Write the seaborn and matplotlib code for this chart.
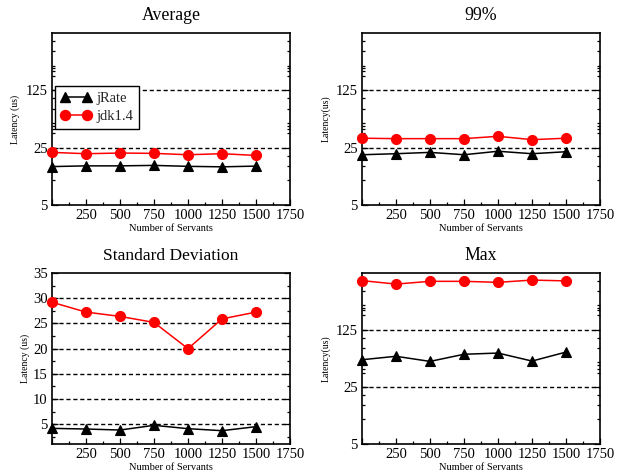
import numpy as np
import pandas as pd
import matplotlib
matplotlib.use("Agg")
import matplotlib.pyplot as plt
import seaborn as sns
from matplotlib.ticker import FixedLocator, FixedFormatter, NullFormatter
from matplotlib.lines import Line2D

# ---- data ----
servants = [0, 250, 500, 750, 1000, 1250, 1500]
series_names = ["jRate", "jdk1.4"]

avg_jrate = [14.7, 15.0, 15.0, 15.2, 14.8, 14.6, 14.9]
avg_jdk = [21.9, 21.1, 21.5, 21.3, 20.5, 21.1, 20.1]

p99_jrate = [20.5, 21.1, 21.9, 20.5, 22.6, 21.1, 22.3]
p99_jdk = [32.6, 32.2, 32.2, 32.2, 34.4, 31.3, 32.6]

std_jrate = [4.2, 4.07, 3.87, 4.8, 4.14, 3.74, 4.54]
std_jdk = [29.2, 27.25, 26.4, 25.2, 20.0, 25.9, 27.25]

max_jrate = [54, 59.5, 51.5, 63, 65.2, 52, 67]
max_jdk = [504, 457, 494, 494, 480, 512, 500]

panel_titles = ["Average", "99%", "Standard Deviation", "Max"]
ylabels = ["Latency (us)", "Latency(us)", "Latency (us)", "Latency(us)"]
xlabel = "Number of Servants"
xticks_major = [250, 500, 750, 1000, 1250, 1500, 1750]
log_major = [5, 25, 125]
log_minor = [10, 15, 20, 37.5, 42, 46, 50, 75, 100, 189, 217, 235, 250, 375, 500]
lin_major = [5, 10, 15, 20, 25, 30, 35]

sns.set_theme(style="white")
plt.rcParams["font.family"] = ["Liberation Serif", "DejaVu Serif"]

fig = plt.figure(figsize=(6.21, 4.71), dpi=100)
W, H = 621, 471

def px_axes(left, top, right, bottom):
    return fig.add_axes([left / W, 1 - bottom / H, (right - left) / W, (bottom - top) / H])

axes = [
    px_axes(52, 33, 290, 205),
    px_axes(362, 33, 600, 205),
    px_axes(52, 273, 290, 444),
    px_axes(362, 273, 600, 444),
]

data_sets = [
    (avg_jrate, avg_jdk),
    (p99_jrate, p99_jdk),
    (std_jrate, std_jdk),
    (max_jrate, max_jdk),
]

palette = {"jRate": "black", "jdk1.4": "#ff0000"}
markers = {"jRate": "^", "jdk1.4": "o"}
MS = 7.2

for i, (ax, (jr, jd)) in enumerate(zip(axes, data_sets)):
    df = pd.DataFrame({
        "servants": servants * 2,
        "latency": list(jr) + list(jd),
        "series": ["jRate"] * len(servants) + ["jdk1.4"] * len(servants),
    })
    sns.lineplot(data=df, x="servants", y="latency", hue="series", style="series",
                 markers=markers, dashes=False, palette=palette, ax=ax,
                 markersize=MS, markeredgewidth=0.8, linewidth=1.1,
                 legend=False, zorder=5, clip_on=False)
    for line in ax.lines:
        line.set_markeredgecolor(line.get_color())

    ax.set_xlim(0, 1750)
    ax.xaxis.set_major_locator(FixedLocator([0] + xticks_major))
    ax.xaxis.set_major_formatter(FixedFormatter([""] + [str(v) for v in xticks_major]))
    ax.xaxis.set_minor_locator(FixedLocator([125 + 250 * k for k in range(7)]))

    if i == 2:
        ax.set_ylim(1.1, 35)
        ax.yaxis.set_major_locator(FixedLocator(lin_major))
        ax.yaxis.set_major_formatter(FixedFormatter([str(v) for v in lin_major]))
        ax.yaxis.set_minor_locator(FixedLocator([2.5, 7.5, 12.5, 17.5, 22.5, 27.5, 32.5]))
        grid_vals = [5, 10, 15, 20, 25, 30]
    else:
        ax.set_yscale("log")
        ax.set_ylim(5, 625)
        ax.yaxis.set_major_locator(FixedLocator(log_major))
        ax.yaxis.set_major_formatter(FixedFormatter([str(v) for v in log_major]))
        ax.yaxis.set_minor_locator(FixedLocator(log_minor))
        ax.yaxis.set_minor_formatter(NullFormatter())
        grid_vals = [25, 125]

    for g in grid_vals:
        ax.axhline(g, color="black", linestyle=(0, (3, 2)), linewidth=1.0, zorder=1)

    ax.tick_params(axis="both", which="both", direction="in", labelsize=10.5,
                   left=True, right=True, bottom=True, top=False, colors="black")
    ax.tick_params(axis="both", which="major", length=4, width=0.9, pad=3)
    ax.tick_params(axis="both", which="minor", length=2.2, width=0.9)
    for s in ax.spines.values():
        s.set_color("black")
        s.set_linewidth(1.2)

    ax.set_title(panel_titles[i], fontsize=12.8 if i != 2 else 12.5, pad=9, color="black")
    ax.set_xlabel(xlabel, fontsize=7.5, labelpad=1, color="black")
    ax.set_ylabel(ylabels[i], fontsize=7, labelpad=4 if i != 2 else 2, color="black")

# legend in the Average panel
handles = [
    Line2D([0], [0], color="black", marker="^", markersize=MS, linewidth=1.1),
    Line2D([0], [0], color="#ff0000", marker="o", markersize=MS, linewidth=1.1),
]
leg = axes[0].legend(handles, series_names, loc="upper left",
                     bbox_to_anchor=((55 - 52) / 238, (205 - 86) / 172),
                     numpoints=2, fontsize=10.5, frameon=True, fancybox=False,
                     edgecolor="black", framealpha=1, handlelength=2.1,
                     borderpad=0.4, labelspacing=0.35, handletextpad=0.35,
                     borderaxespad=0)
leg.get_frame().set_linewidth(1.0)
leg.set_zorder(10)

fig.savefig("out.png", dpi=100)
